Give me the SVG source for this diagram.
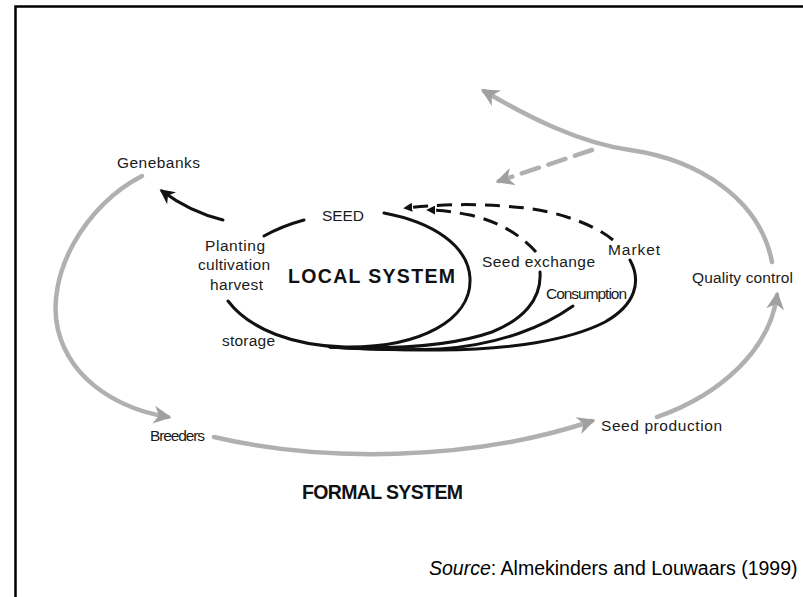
<svg xmlns="http://www.w3.org/2000/svg" width="803" height="597" viewBox="0 0 803 597">
<style>
.lbl{font-family:"Liberation Sans",Arial,sans-serif;font-size:15.5px;fill:#1a1a1a}
.big{font-family:"Liberation Sans",Arial,sans-serif;font-size:19.5px;font-weight:bold;fill:#111}
.blk{fill:none;stroke:#111;stroke-width:3;stroke-linecap:round}
.dash{fill:none;stroke:#111;stroke-width:3;stroke-dasharray:15 9}
.grey{fill:none;stroke:#b0b0b0;stroke-width:4.5;stroke-linecap:round}
.src{font-family:"Liberation Sans",Arial,sans-serif;font-size:19.5px;fill:#000}
</style>
<defs>
<marker id="ab" viewBox="0 0 10 10" refX="8" refY="5" markerWidth="5" markerHeight="5" orient="auto" markerUnits="strokeWidth">
<path d="M0,0 L10,5 L0,10 L3,5 Z" fill="#111"/>
</marker>
<marker id="ag" viewBox="0 0 10 10" refX="8" refY="5" markerWidth="4" markerHeight="4" orient="auto" markerUnits="strokeWidth">
<path d="M0,0 L10,5 L0,10 L3,5 Z" fill="#a0a0a0"/>
</marker>
<marker id="as" viewBox="0 0 10 10" refX="8" refY="5" markerWidth="3" markerHeight="3" orient="auto" markerUnits="strokeWidth">
<path d="M0,0 L10,5 L0,10 Z" fill="#111"/>
</marker>
</defs>
<rect width="803" height="597" fill="#fff"/>
<path d="M15.5,597 V6.5 H803" fill="none" stroke="#000" stroke-width="2.5"/>

<g id="connectors">
<path class="grey" d="M142,176 C85,205 45,275 58,330 C72,385 125,410 168,417" marker-end="url(#ag)"/>
<path class="grey" d="M214,437 C320,462 470,462 592,421" marker-end="url(#ag)"/>
<path class="grey" d="M657,417 C720,395 770,350 777,295" marker-end="url(#ag)"/>
<path class="grey" d="M772,262 C760,200 700,160 630,150 C580,143 530,118 484,91" marker-end="url(#ag)"/>
<path class="grey" d="M592,150 L499,181" stroke-dasharray="18 10" marker-end="url(#ag)"/>
<path class="blk" stroke-width="2.5" d="M223,220 Q190,212 162,191" marker-end="url(#ab)"/>
<path class="blk" d="M264,236 Q282,226 304,220"/>
<path class="blk" d="M228,301 C250,330 295,346 345,347 C420,348 472,320 470,278 C468,245 432,222 384,213"/>
<path class="blk" d="M540,272 C542,300 522,320 492,332 C455,345 400,350 330,347"/>
<path class="blk" d="M573,306 C545,326 500,345 440,349 C400,351 360,349 330,347"/>
<path class="blk" d="M630,260 C642,282 635,305 605,322 C570,340 510,350 440,350 C400,350 360,349 330,347"/>
<path class="dash" d="M536,252 C522,236 500,222 470,215 C455,212 440,210 428,210" marker-end="url(#as)"/>
<path class="dash" d="M613,240 C595,225 560,212 525,208 C490,204 450,203 405,208" marker-end="url(#as)"/>
</g>

<g id="genebanks"><text class="lbl" x="117" y="168" font-size="16" textLength="83">Genebanks</text></g>
<g id="seed"><text class="lbl" x="322" y="221" textLength="42">SEED</text></g>
<g id="planting">
<text class="lbl" x="205" y="251" textLength="60">Planting</text>
<text class="lbl" x="198" y="270" textLength="72">cultivation</text>
<text class="lbl" x="210" y="290" font-size="16" textLength="53">harvest</text>
</g>
<g id="local-system"><text class="big" x="288" y="283" textLength="167">LOCAL SYSTEM</text></g>
<g id="seed-exchange"><text class="lbl" x="482" y="267" font-size="16" textLength="113">Seed exchange</text></g>
<g id="market"><text class="lbl" x="608" y="255" textLength="52">Market</text></g>
<g id="consumption"><text class="lbl" x="546" y="299" font-size="14" textLength="81">Consumption</text></g>
<g id="storage"><text class="lbl" x="222" y="346" textLength="53">storage</text></g>
<g id="quality-control"><text class="lbl" x="692" y="283" textLength="101">Quality control</text></g>
<g id="breeders"><text class="lbl" x="150" y="441" font-size="14" textLength="55">Breeders</text></g>
<g id="seed-production"><text class="lbl" x="601" y="431" font-size="16" textLength="121">Seed production</text></g>
<g id="formal-system"><text class="big" x="302" y="499" font-size="18.5" textLength="161">FORMAL SYSTEM</text></g>
<g id="source"><text class="src" x="429" y="575"><tspan font-style="italic">Source</tspan>: Almekinders and Louwaars (1999)</text></g>
</svg>
